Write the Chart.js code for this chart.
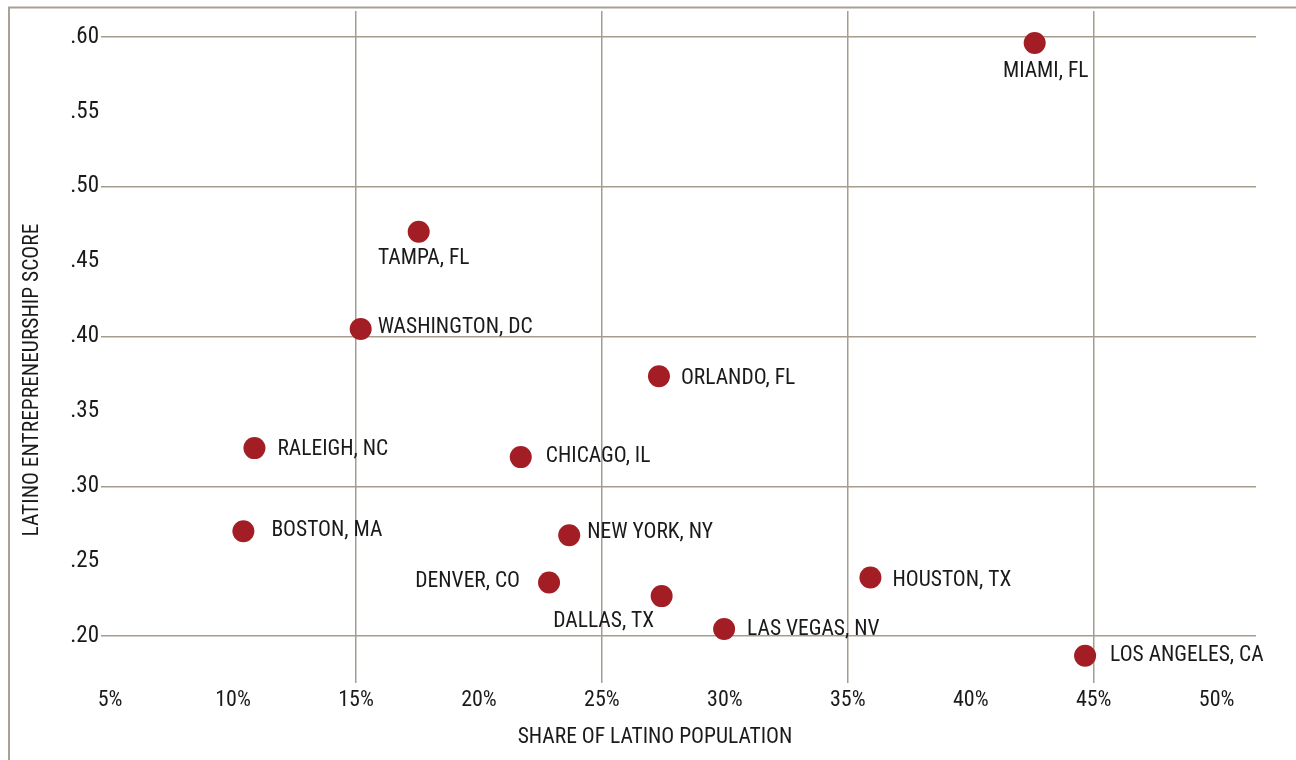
<!DOCTYPE html>
<html>
<head>
<meta charset="utf-8">
<script src="https://cdn.jsdelivr.net/npm/chart.js@4"></script>
<style>
  html, body { margin: 0; padding: 0; background: #ffffff; }
  #wrap { position: relative; width: 1296px; height: 760px; }
</style>
</head>
<body>
<div id="wrap"><canvas id="c" width="1296" height="760"></canvas></div>
<script>
// ---- Data ----
const cities = ["MIAMI, FL","TAMPA, FL","WASHINGTON, DC","ORLANDO, FL","RALEIGH, NC","CHICAGO, IL","BOSTON, MA","NEW YORK, NY","DENVER, CO","DALLAS, TX","LAS VEGAS, NV","HOUSTON, TX","LOS ANGELES, CA"];
const latinoShare = [42.6, 17.55, 15.19, 27.32, 10.87, 21.7, 10.42, 23.67, 22.85, 27.43, 29.97, 35.92, 44.65];
const entrepreneurshipScore = [0.596, 0.470, 0.405, 0.3735, 0.3255, 0.3195, 0.270, 0.2673, 0.2358, 0.2267, 0.2047, 0.2391, 0.1869];
const xTickValues = [5, 10, 15, 20, 25, 30, 35, 40, 45, 50];
const yTickValues = [0.20, 0.25, 0.30, 0.35, 0.40, 0.45, 0.50, 0.55, 0.60];
const xGridValues = [15, 25, 35, 45];
const yGridValues = [0.20, 0.30, 0.40, 0.50, 0.60];
const xAxisTitle = "SHARE OF LATINO POPULATION";
const yAxisTitle = "LATINO ENTREPRENEURSHIP SCORE";

// ---- Label layout (annotation placement relative to each dot) ----
const labelAlign = ["center","center","left","left","left","left","left","left","right","center","left","left","left"];
const labelDx = [11, 5, 17, 22, 23, 25, 28, 18, -29, -58, 23, 22, 25];
const labelDy = [29, 27, -1, 2, 2, 0, -1, -3, -1, 26, 1, 3, 0];

// ---- Style ----
const FAMILY = "'Roboto Condensed', 'DejaVu Sans Condensed', sans-serif";
const TEXT = "#1a1a1a";
const GRID = "#a59d90";
const DOT = "#a31e24";

const labelPlugin = {
  id: 'pointLabels',
  afterDatasetsDraw(chart) {
    const ctx = chart.ctx;
    const meta = chart.getDatasetMeta(0);
    ctx.save();
    ctx.font = "21.5px " + FAMILY;
    ctx.fillStyle = TEXT;
    ctx.textBaseline = 'middle';
    meta.data.forEach((pt, i) => {
      ctx.textAlign = labelAlign[i];
      ctx.fillText(cities[i], pt.x + labelDx[i], pt.y + labelDy[i]);
    });
    ctx.restore();
  }
};

const decorPlugin = {
  id: 'decor',
  afterDraw(chart) {
    const ctx = chart.ctx;
    ctx.save();
    // frame
    ctx.strokeStyle = "#a8a295";
    ctx.lineWidth = 2;
    ctx.beginPath();
    ctx.moveTo(9, 760); ctx.lineTo(9, 7.5); ctx.lineTo(1296, 7.5);
    ctx.stroke();
    // axis titles
    ctx.fillStyle = TEXT;
    ctx.font = "21.5px " + FAMILY;
    ctx.textAlign = 'center';
    ctx.textBaseline = 'middle';
    ctx.fillText(xAxisTitle, 655, 738);
    ctx.translate(33, 380);
    ctx.rotate(-Math.PI / 2);
    ctx.fillText(yAxisTitle, 0, 0);
    ctx.restore();
  }
};

const near = (a, b) => Math.abs(a - b) < 1e-6;

new Chart(document.getElementById('c'), {
  type: 'scatter',
  data: {
    datasets: [{
      data: latinoShare.map((x, i) => ({ x: x, y: entrepreneurshipScore[i] })),
      backgroundColor: DOT,
      borderColor: DOT,
      pointRadius: 11,
      pointHoverRadius: 11,
      borderWidth: 0
    }]
  },
  options: {
    responsive: false,
    animation: false,
    events: [],
    layout: { padding: { top: 10, right: 40, left: 0, bottom: 0 } },
    plugins: { legend: { display: false }, tooltip: { enabled: false } },
    scales: {
      x: {
        type: 'linear',
        min: 4.63,
        max: 51.6,
        afterBuildTicks: (s) => { s.ticks = xTickValues.map(v => ({ value: v })); },
        afterFit: (s) => { s.height = 77; },
        border: { display: false },
        grid: {
          drawTicks: false,
          lineWidth: 1.5,
          color: (c) => xGridValues.some(v => c.tick && near(c.tick.value, v)) ? GRID : 'rgba(0,0,0,0)'
        },
        ticks: {
          padding: 4,
          color: TEXT,
          font: { family: FAMILY, size: 22 },
          maxRotation: 0,
          callback: (v) => v + '%'
        },
        title: { display: false }
      },
      y: {
        type: 'linear',
        min: 0.1687,
        max: 0.6173,
        afterBuildTicks: (s) => { s.ticks = yTickValues.map(v => ({ value: v })); },
        afterFit: (s) => { s.width = 101; s.paddingTop = 0; s.paddingBottom = 0; },
        border: { display: false },
        grid: {
          drawTicks: false,
          lineWidth: 1.5,
          color: (c) => yGridValues.some(v => c.tick && near(c.tick.value, v)) ? GRID : 'rgba(0,0,0,0)'
        },
        ticks: {
          padding: 2,
          color: TEXT,
          font: { family: FAMILY, size: 23 },
          callback: (v) => v.toFixed(2).replace(/^0/, '')
        },
        title: { display: false }
      }
    }
  },
  plugins: [labelPlugin, decorPlugin]
});
</script>
</body>
</html>
